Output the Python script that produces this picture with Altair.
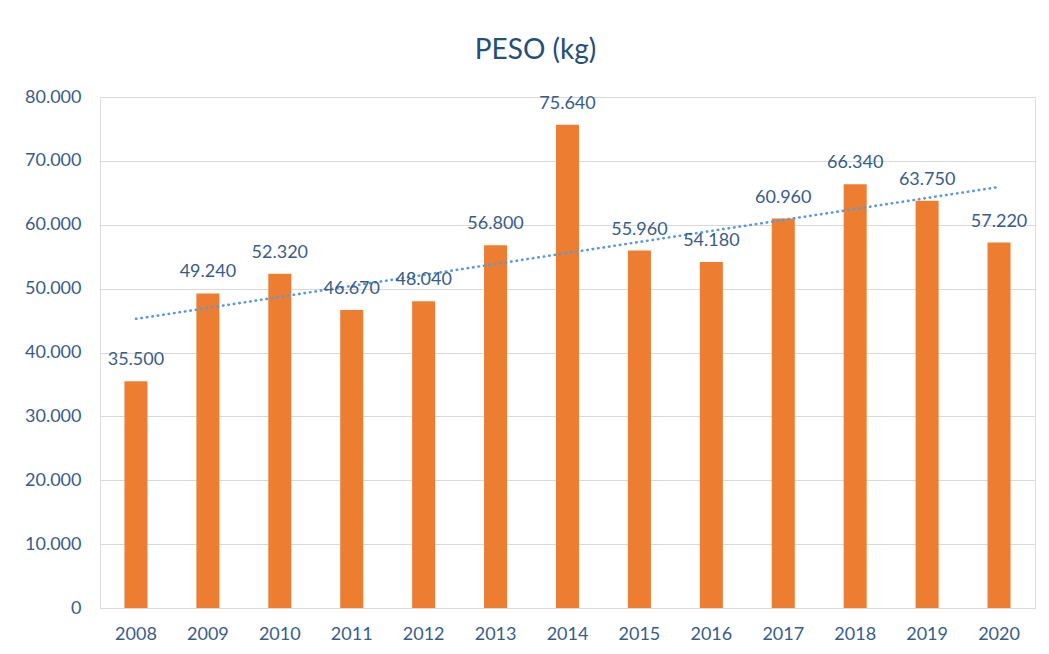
import altair as alt
import pandas as pd

anos = [2008, 2009, 2010, 2011, 2012, 2013, 2014, 2015, 2016, 2017, 2018, 2019, 2020]
peso = [35500, 49240, 52320, 46670, 48040, 56800, 75640, 55960, 54180, 60960, 66340, 63750, 57220]
y_ticks = [0, 10000, 20000, 30000, 40000, 50000, 60000, 70000, 80000]

df = pd.DataFrame({"ano": anos, "peso": peso})

FONT = "Lato"
TITLE_C = "#254E78"
LABEL_C = "#385D88"

base = alt.Chart(df)

x = alt.X(
    "ano:O",
    title=None,
    scale=alt.Scale(paddingInner=0.68, paddingOuter=0.34),
    axis=alt.Axis(labelAngle=0, ticks=False, domain=True, domainColor="#D9D9D9",
                  labelPadding=17, labelFontSize=18, labelColor=LABEL_C, labelFont=FONT),
)
y = alt.Y(
    "peso:Q",
    title=None,
    scale=alt.Scale(domain=[0, 80000]),
    axis=alt.Axis(values=y_ticks, ticks=False, domain=False, gridColor="#D9D9D9",
                  labelPadding=19, labelFontSize=18, labelColor=LABEL_C, labelFont=FONT,
                  labelExpr="replace(format(datum.value, ','), ',', '.')"),
)

bars = base.mark_bar(color="#ED7D31").encode(x=x, y=y)

labels = base.transform_calculate(
    rotulo="replace(format(datum.peso, ','), ',', '.')"
).mark_text(
    baseline="alphabetic", dy=-16, fontSize=18, font=FONT, color=LABEL_C
).encode(x=x, y=y, text="rotulo:N")

trend = base.transform_regression("ano", "peso").mark_line(
    color="#5B9BD5", strokeWidth=2.6, strokeDash=[0.5, 5], strokeCap="round"
).encode(x=x, y=y)

chart = alt.layer(bars, trend, labels).properties(
    width=935,
    height=511,
    title=alt.TitleParams("PESO (kg)", fontSize=28, font=FONT, fontWeight="normal",
                          color=TITLE_C, anchor="middle", dx=-32, offset=23),
    autosize=alt.AutoSizeParams(type="none"),
    padding={"left": 92, "top": 89, "right": 6, "bottom": 38},
).configure_view(stroke=None).configure(background="white")

chart.save("out.html", embed_options={"renderer": "svg", "actions": False})
